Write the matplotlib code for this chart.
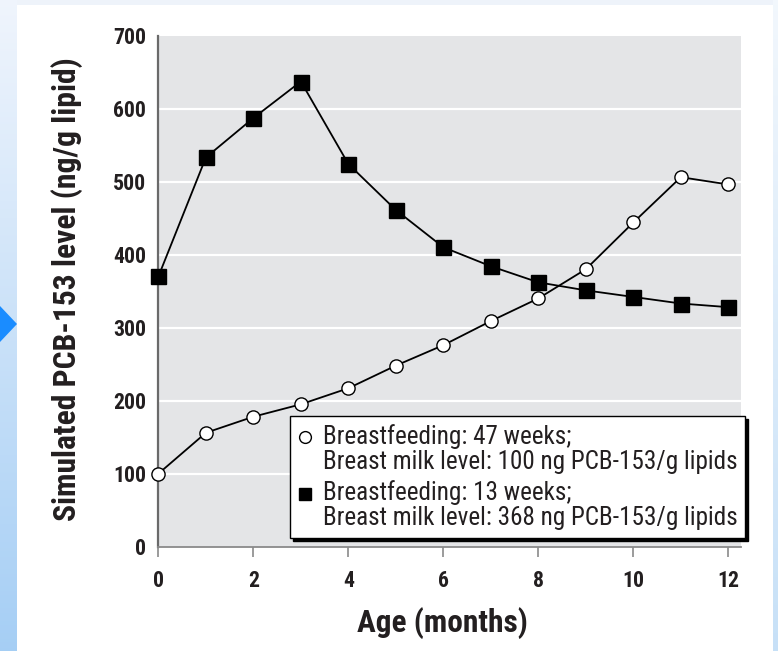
import matplotlib
matplotlib.use("Agg")
import matplotlib.pyplot as plt
import numpy as np
from matplotlib import font_manager
from matplotlib.lines import Line2D
from matplotlib.legend_handler import HandlerLine2D
from matplotlib.patches import Polygon, Rectangle

# ---------------- data ----------------
months = [0, 1, 2, 3, 4, 5, 6, 7, 8, 9, 10, 11, 12]
pcb_47_weeks = [100, 156, 178, 195, 217, 248, 276, 309, 340, 380, 444, 506, 496]
pcb_13_weeks = [370, 533, 587, 637, 524, 461, 410, 384, 362, 351, 342, 333, 328]
x_ticks = [0, 2, 4, 6, 8, 10, 12]
y_ticks = [0, 100, 200, 300, 400, 500, 600, 700]
label_47 = "Breastfeeding: 47 weeks;\nBreast milk level: 100 ng PCB-153/g lipids"
label_13 = "Breastfeeding: 13 weeks;\nBreast milk level: 368 ng PCB-153/g lipids"
x_label = "Age (months)"
y_label = "Simulated PCB-153 level (ng/g lipid)"

# ---------------- fonts: prefer a condensed grotesque ----------------
prefs = ["Nimbus Sans Narrow", "Liberation Sans Narrow", "Arial Narrow",
         "Roboto Condensed", "PT Sans Narrow", "Archivo Narrow", "Fira Sans Condensed",
         "IBM Plex Sans Condensed", "Pragati Narrow", "Barlow Semi Condensed",
         "Asap Condensed"]
weights = {}
for f in font_manager.fontManager.ttflist:
    weights.setdefault(f.name, set()).add(f.weight)

def wnum(w):
    if isinstance(w, (int, float)):
        return w
    return {"bold": 700, "normal": 400, "regular": 400}.get(str(w).lower(), 400)

chosen = None
for p in prefs:
    if p in weights and any(wnum(w) >= 600 for w in weights[p]):
        chosen = p
        break
if chosen is None:
    for p in prefs:
        if p in weights:
            chosen = p
            break
FAM = ([chosen] if chosen else []) + ["Liberation Sans", "DejaVu Sans"]
plt.rcParams["font.family"] = FAM

W, H = 778, 651
fig = plt.figure(figsize=(W / 100, H / 100), dpi=100)
fig.patch.set_facecolor("white")

def fx(px):
    return px / W

def fy(py):
    return 1 - py / H

# ---------------- page decorations ----------------
g = np.linspace(0, 1, 256).reshape(-1, 1)
grad = fig.add_axes([0, 0, fx(17), 1])
c_top = np.array([0.94, 0.96, 0.99])
c_bot = np.array([0.65, 0.81, 0.96])
img = c_top[None, None, :] * (1 - g[..., None]) + c_bot[None, None, :] * g[..., None]
grad.imshow(img, aspect="auto", extent=[0, 1, 0, 1], origin="upper")
grad.set_axis_off()

grad2 = fig.add_axes([fx(773), 0, 1 - fx(773), 1])
c_top2 = np.array([0.95, 0.97, 0.99])
c_bot2 = np.array([0.78, 0.88, 0.97])
img2 = c_top2[None, None, :] * (1 - g[..., None]) + c_bot2[None, None, :] * g[..., None]
grad2.imshow(img2, aspect="auto", extent=[0, 1, 0, 1], origin="upper")
grad2.set_axis_off()

fig.patches.append(Rectangle((fx(17), fy(5)), fx(773) - fx(17), 5 / H,
                             transform=fig.transFigure, facecolor="#eef3fa",
                             edgecolor="none", zorder=0))
fig.patches.append(Polygon([(0, fy(306)), (fx(17), fy(324)), (0, fy(342))],
                           closed=True, transform=fig.transFigure,
                           facecolor="#1a8cff", edgecolor="none", zorder=5))

# ---------------- main axes ----------------
left, right = 158.4, 740.7
top, bottom = 35.5, 546.7
ax = fig.add_axes([fx(left), fy(bottom), fx(right) - fx(left), (bottom - top) / H])
ax.set_facecolor("#e4e5e7")
ax.set_xlim(0, 12.26)
ax.set_ylim(0, 700)

for yv in y_ticks[1:-1]:
    ax.axhline(yv, color="white", lw=1.6, zorder=1)

ax.plot(months, pcb_13_weeks, color="black", lw=1.3, marker="s", markersize=10.8,
        markerfacecolor="black", markeredgecolor="black", zorder=3, clip_on=False)
ax.plot(months, pcb_47_weeks, color="black", lw=1.3, marker="o", markersize=9.5,
        markerfacecolor="white", markeredgecolor="black", markeredgewidth=1.0,
        zorder=4, clip_on=False)

for s in ["top", "right"]:
    ax.spines[s].set_visible(False)
ax.spines["left"].set_color("#6a6a6a")
ax.spines["left"].set_linewidth(1.6)
ax.spines["bottom"].set_color("#8a8a8a")
ax.spines["bottom"].set_linewidth(1.3)

TXT = "#231f20"
ax.set_xticks(x_ticks)
ax.set_yticks(y_ticks)
ax.tick_params(axis="x", direction="out", length=7.5, width=1.2, color="#8a8a8a",
               pad=9, labelsize=15, labelcolor=TXT)
ax.tick_params(axis="y", length=0, pad=9, labelsize=15, labelcolor=TXT)
for t in ax.get_xticklabels() + ax.get_yticklabels():
    t.set_fontweight("bold")

ax.set_xlabel(x_label, fontsize=20, fontweight="bold", color=TXT, va="center")
ax.xaxis.set_label_coords((442.5 - left) / (right - left), (bottom - 623) / (bottom - top))
ax.set_ylabel(y_label, fontsize=20, fontweight="bold", color=TXT, va="center")
ax.yaxis.set_label_coords((67.5 - left) / (right - left), (bottom - 289.5) / (bottom - top))

# ---------------- legend ----------------
class RaisedHandler(HandlerLine2D):
    def create_artists(self, legend, orig_handle, xdescent, ydescent, width, height,
                       fontsize, trans):
        arts = super().create_artists(legend, orig_handle, xdescent, ydescent, width,
                                      height, fontsize, trans)
        for a in arts:
            a.set_ydata([y + 9.0 for y in a.get_ydata()])
        return arts

h47 = Line2D([], [], linestyle="none", marker="o", markersize=8.5,
             markerfacecolor="white", markeredgecolor="black", markeredgewidth=1.0)
h13 = Line2D([], [], linestyle="none", marker="s", markersize=9,
             markerfacecolor="black", markeredgecolor="black")

def make_legend(fs, lsp):
    lg = ax.legend([h47, h13], [label_47, label_13],
                   loc="lower right", bbox_to_anchor=(fx(745), fy(538)),
                   bbox_transform=fig.transFigure, borderaxespad=0,
                   fontsize=fs, frameon=True, fancybox=False,
                   shadow={"color": "black", "alpha": 1.0},
                   framealpha=1, edgecolor="black",
                   handlelength=0.6, handletextpad=0.4, borderpad=0.3,
                   labelspacing=lsp, numpoints=1,
                   handler_map={Line2D: RaisedHandler()})
    lg.get_frame().set_linewidth(1.0)
    lg.set_zorder(6)
    return lg

leg = make_legend(18, 0.4)

# ---------------- fit text sizes to reference pixel extents ----------------
fig.canvas.draw()
r = fig.canvas.get_renderer()

def fit(texts, target, use_height=False):
    for _ in range(2):
        if use_height:
            w = max(t.get_window_extent(r).height for t in texts)
        else:
            w = max(t.get_window_extent(r).width for t in texts)
        for t in texts:
            t.set_fontsize(t.get_fontsize() * target / w)
        fig.canvas.draw()

ylabs = ax.get_yticklabels()
fit([ylabs[-1]], 33.0)
tick_fs = ylabs[-1].get_fontsize()
ax.tick_params(axis="both", labelsize=tick_fs)
for t in ax.get_xticklabels() + ax.get_yticklabels():
    t.set_fontweight("bold")
fit([ax.xaxis.label], 171.0)
fit([ax.yaxis.label], 465.0, use_height=True)

# legend font from the long line width
line1, line2 = label_47.split("\n")
probe = fig.text(0, 0, line2, fontsize=18)
fig.canvas.draw()
wpx = probe.get_window_extent(r).width
leg_fs = 18 * 416.0 / wpx
probe.remove()
fp = font_manager.FontProperties(family=FAM, size=leg_fs)
_, lp_h, lp_d = r.get_text_width_height_descent("lp", fp, ismath=False)
_, h1, d1 = r.get_text_width_height_descent(line1, fp, ismath=False)
_, h2, d2 = r.get_text_width_height_descent(line2, fp, ismath=False)
desc1 = max(d1, lp_d)
desc2 = max(d2, lp_d)
asc1 = max(h1, lp_h) - desc1
asc2 = max(h2, lp_h) - desc2
# matplotlib: baseline pitch = ascent(next line) * linespacing + descent(previous line)
linesp = max(0.6, (25.0 - desc1) / asc2)
fs_px = leg_fs * 100 / 72
labsp = max(0.05, (31.7 - desc2 - asc1)) / fs_px
leg.remove()
leg = make_legend(leg_fs, labsp)
for t in leg.get_texts():
    t.set_linespacing(linesp)
    t.set_color(TXT)

fig.savefig("out.png", dpi=100, facecolor=fig.get_facecolor())
